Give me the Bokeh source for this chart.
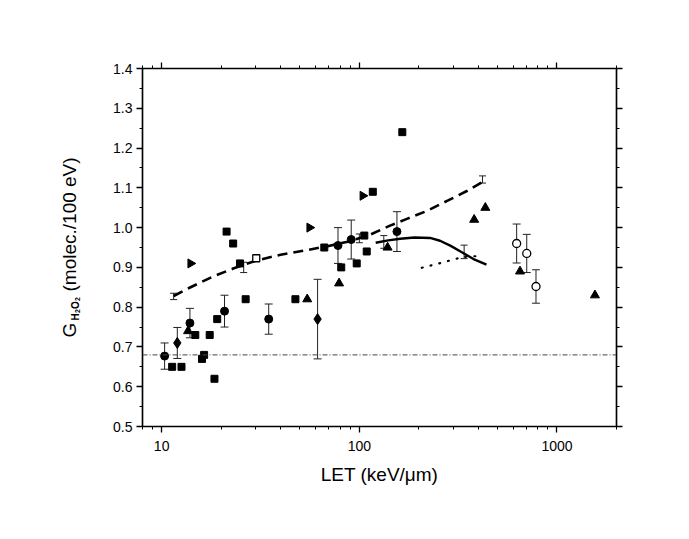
import numpy as np
from bokeh.plotting import figure
from bokeh.layouts import row
from bokeh.core.properties import value
from bokeh.models import (ColumnDataSource, Whisker, TeeHead, LogAxis, LinearAxis,
                          FixedTicker, PrintfTickFormatter, CustomJSTickFormatter,
                          Range1d, Span)
from bokeh.embed import file_html
from bokeh.resources import INLINE

# ---- data: G(H2O2) yield vs LET ----
sq_let = [11.3, 12.6, 14.8, 16.0, 16.4, 17.5, 18.5, 19.1, 21.3, 23.0,
          24.9, 26.6, 47.5, 66.5, 81, 97, 106, 109, 117, 165]
sq_g = [0.65, 0.65, 0.73, 0.67, 0.68, 0.73, 0.62, 0.77, 0.99, 0.96,
        0.91, 0.82, 0.82, 0.95, 0.90, 0.91, 0.98, 0.94, 1.09, 1.24]

circ_let = [10.35, 13.9, 20.8, 34.8, 78, 91, 155]
circ_g = [0.677, 0.76, 0.79, 0.77, 0.955, 0.97, 0.99]
circ_err = [0.033, 0.037, 0.04, 0.038, 0.045, 0.049, 0.05]

diam_let = [12.0, 61.5]
diam_g = [0.71, 0.77]
diam_err = [0.039, 0.10]

tri_let = [13.6, 54.5, 79, 139, 381, 434, 650, 1556]
tri_g = [0.74, 0.82, 0.86, 0.95, 1.02, 1.05, 0.89, 0.83]

rtri_let = [14.0, 56, 104]
rtri_g = [0.91, 1.00, 1.08]

ocirc_let = [625, 703, 783]
ocirc_g = [0.96, 0.935, 0.852]
ocirc_err = [0.049, 0.048, 0.042]

osq_let = [30.1]
osq_g = [0.923]

bar_let = [11.5, 26, 100, 133, 339, 420]
bar_g = [0.827, 0.90, 0.973, 0.964, 0.939, 1.121]
bar_err = [0.008, 0.013, 0.011, 0.016, 0.017, 0.009]

dash_let = [11.5, 14, 18, 23, 30, 40, 55, 70, 90, 113, 143, 174, 220, 283, 350, 420]
dash_g = [0.828, 0.850, 0.876, 0.897, 0.917, 0.932, 0.944, 0.954, 0.966, 0.982,
          1.005, 1.022, 1.042, 1.069, 1.092, 1.115]

solid_let = [121, 140, 161, 190, 228, 256, 290, 330, 378, 440]
solid_g = [0.962, 0.968, 0.972, 0.975, 0.974, 0.967, 0.954, 0.938, 0.921, 0.907]

dot_let = [207, 235, 262, 296, 333, 370, 410]
dot_g = [0.899, 0.906, 0.912, 0.919, 0.926, 0.928, 0.928]

baseline_g = 0.68

x_ticks = [10, 100, 1000]
y_ticks = [0.5, 0.6, 0.7, 0.8, 0.9, 1.0, 1.1, 1.2, 1.3, 1.4]

FONT = "Liberation Sans"

x_minor = [m * 10.0 ** e for e in range(0, 4) for m in range(2, 10) if 8 <= m * 10.0 ** e <= 2000]
y_minor = [round(v + 0.05, 2) for v in y_ticks[:-1]]

TITLE_W = 100   # strip holding the rotated y-axis title
H = 539

p = figure(width=689 - TITLE_W, height=H, x_axis_type="log",
           x_range=Range1d(8, 2000), y_range=Range1d(0.5, 1.4),
           output_backend="svg", toolbar_location=None,
           min_border_left=142 - TITLE_W, min_border_right=73,
           min_border_top=68, min_border_bottom=113)
p.xgrid.visible = False
p.ygrid.visible = False
p.outline_line_color = "black"
p.outline_line_width = 1.2
p.background_fill_color = "white"
p.border_fill_color = "white"


def style_axis(ax, ticker):
    ax.ticker = ticker
    ax.axis_line_color = "black"
    ax.axis_line_width = 1.5
    ax.major_tick_out = 6
    ax.major_tick_in = 0
    ax.minor_tick_out = 3
    ax.minor_tick_in = 0
    ax.major_tick_line_width = 1.3
    ax.minor_tick_line_width = 1
    ax.major_tick_line_color = "black"
    ax.minor_tick_line_color = "black"
    ax.major_label_text_font = FONT
    ax.major_label_text_color = "black"
    ax.major_label_text_font_size = "14px"


xax = p.xaxis[0]
style_axis(xax, FixedTicker(ticks=x_ticks, minor_ticks=x_minor))
xax.formatter = PrintfTickFormatter(format="%d")
xax.major_label_standoff = 8
xax.axis_label = "LET (keV/\u03bcm)"
xax.axis_label_text_font = FONT
xax.axis_label_text_font_size = "19px"
xax.axis_label_text_font_style = "normal"
xax.axis_label_text_color = "black"
xax.axis_label_standoff = 10

yax = p.yaxis[0]
style_axis(yax, FixedTicker(ticks=y_ticks, minor_ticks=y_minor))
yax.formatter = PrintfTickFormatter(format="%.1f")
yax.major_label_standoff = 4

# mirrored tick axes on the top and right edges, without labels
top = LogAxis()
style_axis(top, FixedTicker(ticks=x_ticks, minor_ticks=x_minor))
top.formatter = CustomJSTickFormatter(code="return ''")
p.add_layout(top, "above")
right = LinearAxis()
style_axis(right, FixedTicker(ticks=y_ticks, minor_ticks=y_minor))
right.formatter = CustomJSTickFormatter(code="return ''")
p.add_layout(right, "right")

# horizontal reference level
p.add_layout(Span(location=baseline_g, dimension="width", line_color="#444444",
                  line_width=1, line_dash="5 2 1 2"))

# model curves
p.line(dash_let, dash_g, line_color="black", line_width=2.6, line_dash="10 6")
p.line(solid_let, solid_g, line_color="black", line_width=2.4)
p.line(dot_let, dot_g, line_color="black", line_width=2.2, line_dash="1 8", line_cap="round")


def add_errors(xs, ys, errs, cap=8):
    src = ColumnDataSource(dict(x=xs,
                                lo=[y - e for y, e in zip(ys, errs)],
                                hi=[y + e for y, e in zip(ys, errs)]))
    w = Whisker(base="x", lower="lo", upper="hi", source=src, dimension="height",
                line_color="#222222", line_width=1,
                upper_head=TeeHead(size=cap, line_color="#222222", line_width=1),
                lower_head=TeeHead(size=cap, line_color="#222222", line_width=1))
    p.add_layout(w)


add_errors(circ_let, circ_g, circ_err)
add_errors(diam_let, diam_g, diam_err)
add_errors(ocirc_let, ocirc_g, ocirc_err)
add_errors(bar_let, bar_g, bar_err, cap=7)

# experimental points
p.scatter(sq_let, sq_g, marker="square", size=7, color="black")
p.scatter(circ_let, circ_g, marker="circle", size=8, color="black")
p.scatter(diam_let, diam_g, marker="diamond", size=11, color="black")
p.scatter(tri_let, tri_g, marker="triangle", size=9, color="black")
p.scatter(rtri_let, rtri_g, marker="triangle", size=9, color="black", angle=-np.pi / 2)
p.scatter(ocirc_let, ocirc_g, marker="circle", size=8, fill_color="white",
          line_color="black", line_width=1.3)
p.scatter(osq_let, osq_g, marker="square", size=7, fill_color="white",
          line_color="black", line_width=1.3)

# ---- y-axis title strip: G with the H2O2 subscript, then the unit ----
t = figure(width=TITLE_W, height=H, x_range=Range1d(0, 1), y_range=Range1d(0, 1),
           output_backend="svg", toolbar_location=None, title=None,
           x_axis_location=None, y_axis_location=None,
           min_border_left=0, min_border_right=0, min_border_top=0, min_border_bottom=0)
t.xgrid.visible = False
t.ygrid.visible = False
t.outline_line_color = None
t.background_fill_color = "white"
t.border_fill_color = "white"

rot = np.pi / 2
# every piece hangs off the strip's centre point; offsets are screen pixels
title_parts = [
    # text, dx, dy, size, style
    ("G", 19, 90, "19px", "normal"),
    ("H", 25, 73, "10px", "bold"),
    ("2", 27, 65.5, "7px", "bold"),
    ("O", 25, 61.5, "10px", "bold"),
    ("2", 27, 53.5, "7px", "bold"),
    ("(molec./100 eV)", 19, 44, "19px", "normal"),
]
for txt, dx, dy, fs, st in title_parts:
    t.text(x=[0.5], y=[0.5], text=[txt], angle=rot, x_offset=dx, y_offset=dy,
           text_align="left", text_baseline="alphabetic", text_font=value(FONT),
           text_font_size=fs, text_font_style=st, text_color="black")

layout = row(t, p, spacing=0)
open("out.html", "w").write(file_html(layout, INLINE))
